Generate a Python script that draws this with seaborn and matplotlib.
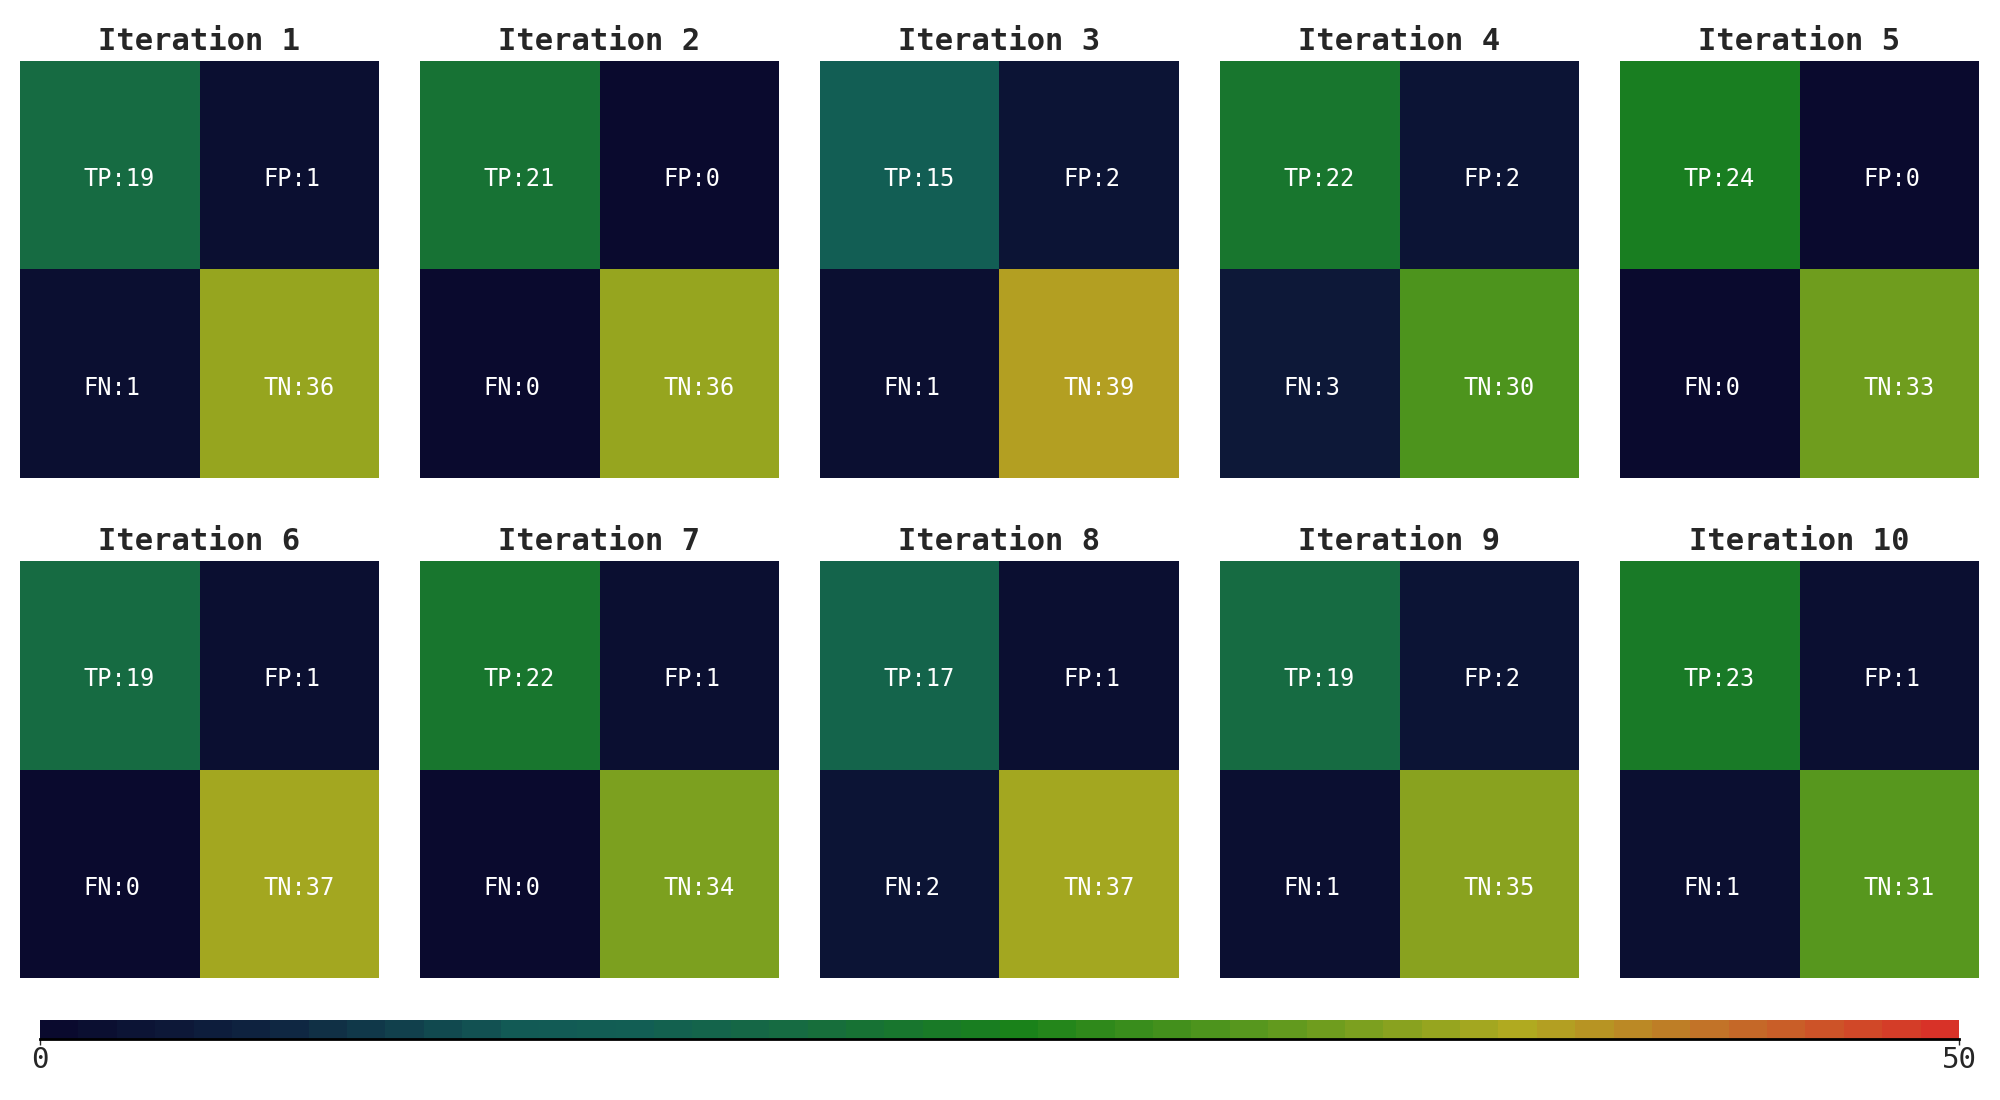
import numpy as np
import matplotlib
matplotlib.use('Agg')
import matplotlib.pyplot as plt
import seaborn as sns
from matplotlib.colors import LinearSegmentedColormap
from matplotlib.cm import ScalarMappable
from matplotlib.colors import Normalize

# confusion counts per iteration
iterations = [1, 2, 3, 4, 5, 6, 7, 8, 9, 10]
tp = [19, 21, 15, 22, 24, 19, 22, 17, 19, 23]
fp = [1, 0, 2, 2, 0, 1, 1, 1, 2, 1]
fn = [1, 0, 1, 3, 0, 0, 0, 2, 1, 1]
tn = [36, 36, 39, 30, 33, 37, 34, 37, 35, 31]
cbar_ticks = [0, 50]

sns.set_style('white')
plt.rcParams['font.family'] = ['DejaVu Sans Mono', 'DejaVu Sans']

# navy -> teal -> green -> yellow -> red, 50 steps
stops = [(0.0, '#0a0a2e'), (0.12, '#0f2642'), (0.245, '#125a55'),
         (0.306, '#125e54'), (0.39, '#166b41'), (0.51, '#1a821a'),
         (0.65, '#609a1e'), (0.776, '#b0aa20'), (0.88, '#c27228'),
         (1.0, '#d83228')]
cmap = LinearSegmentedColormap.from_list('cm', stops, N=50)

fig = plt.figure(figsize=(20, 11), dpi=100)

for i, it in enumerate(iterations):
    row, col = divmod(i, 5)
    left = (20 + 400 * col) / 2000
    bottom = 0.5655 if row == 0 else 0.1109
    ax = fig.add_axes([left, bottom, 359 / 2000, 417 / 1100])
    mat = np.array([[tp[i], fp[i]], [fn[i], tn[i]]])
    labels = [[f'TP:{tp[i]}', f'FP:{fp[i]}'],
              [f'FN:{fn[i]}', f'TN:{tn[i]}']]
    sns.heatmap(mat, ax=ax, cmap=cmap, vmin=0, vmax=50, cbar=False,
                xticklabels=False, yticklabels=False)
    for r in range(2):
        for c in range(2):
            ax.text(c + 0.355, r + 0.51, labels[r][c], color='white',
                    fontsize=17, ha='left', va='top')
    ax.set_title(f'Iteration {it}', fontsize=22, fontweight='bold', pad=8)

cax = fig.add_axes([0.02, 0.0555, 0.9595, 0.0173])
sm = ScalarMappable(norm=Normalize(vmin=0, vmax=50), cmap=cmap)
cbar = fig.colorbar(sm, cax=cax, orientation='horizontal', ticks=cbar_ticks)
cbar.outline.set_visible(False)
cax.spines['bottom'].set_visible(True)
cax.spines['bottom'].set_color('black')
cax.spines['bottom'].set_linewidth(2)
cax.tick_params(labelsize=21, length=4, width=1, pad=1)

fig.savefig('out.png', dpi=100)
